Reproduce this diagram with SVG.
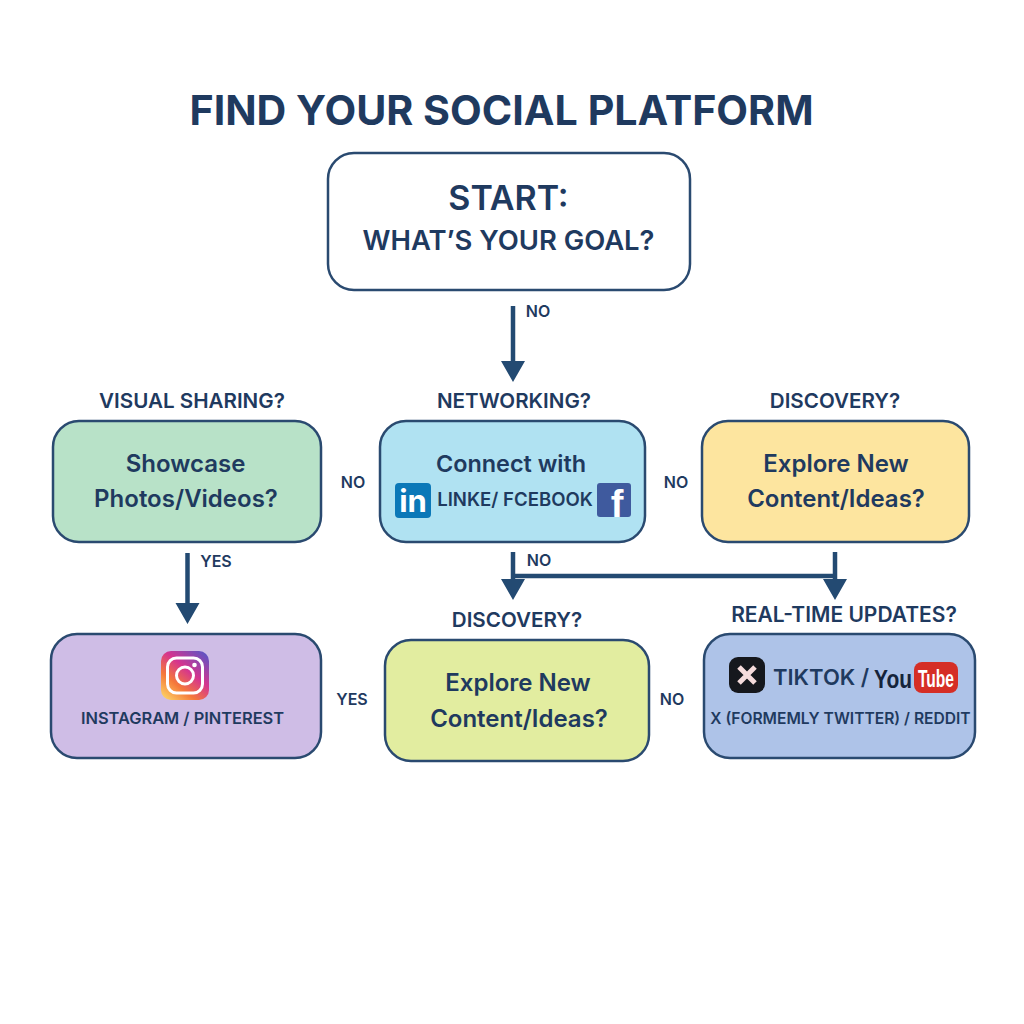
<svg xmlns="http://www.w3.org/2000/svg" width="1024" height="1024" viewBox="0 0 1024 1024">
<defs>
<style>
text{font-family:"Inter","Liberation Sans",sans-serif;fill:#1f3a5f;text-anchor:middle;font-weight:600}
.n{stroke:#2a4a70;stroke-width:2.5}
.l{font-size:16px}
.h{font-size:20.600px}
.b{font-size:24px}
.s{font-size:16.400px}
.c{fill:none;stroke:#234a72;stroke-width:4.500}
.w{font-family:"Liberation Sans",sans-serif;font-weight:700}
</style>
<linearGradient id="ig" x1="0.1" y1="1" x2="0.9" y2="0"><stop offset="0" stop-color="#fdd365"/><stop offset="0.3" stop-color="#f5793a"/><stop offset="0.6" stop-color="#d5348f"/><stop offset="1" stop-color="#5b55c5"/></linearGradient>
</defs>
<rect width="1024" height="1024" fill="#fff"/>
<text id="title" x="501.500" y="125" style="font-size:41.200px;font-weight:700">FIND YOUR SOCIAL PLATFORM</text>
<g id="connectors">
<g class="c">
<path d="M513 306V364"/>
<path d="M187.500 553V606"/>
<path d="M513 552V582"/>
<path d="M835 552V582"/>
<path d="M513 576H835"/>
</g>
<path d="M501 361H525L513 382Z M175.500 603H199.500L187.500 624Z M501 579H525L513 600Z M823 579H847L835 600Z" fill="#234a72"/>
</g>
<g id="edge-labels">
<text class="l" x="538" y="317">NO</text>
<text class="l" x="353" y="488">NO</text>
<text class="l" x="676" y="488">NO</text>
<text class="l" x="216" y="567">YES</text>
<text class="l" x="539" y="566">NO</text>
<text class="l" x="352" y="705">YES</text>
<text class="l" x="672" y="705">NO</text>
</g>
<g id="start"><rect class="n" x="328" y="153" width="362" height="137" rx="26" fill="#fff"/>
<text x="508.500" y="210" style="font-size:34px">START:</text>
<text x="508.500" y="250" style="font-size:27.400px">WHAT’S YOUR GOAL?</text></g>
<g id="visual"><text class="h" x="192" y="408">VISUAL SHARING?</text>
<rect class="n" x="53" y="421" width="268" height="121" rx="26" fill="#b8e2c8"/>
<text class="b" x="185.500" y="472">Showcase</text><text class="b" x="186" y="507">Photos/Videos?</text></g>
<g id="networking"><text class="h" x="514" y="408">NETWORKING?</text>
<rect class="n" x="380" y="421" width="265" height="121" rx="26" fill="#b0e2f2"/>
<text class="b" x="511" y="472" style="font-size:23.400px">Connect with</text>
<rect x="395" y="483" width="36" height="35" rx="4" fill="#0b78b8"/>
<text x="413" y="512" style="font-size:31px;font-weight:700;fill:#fff">in</text>
<text x="515" y="506" style="font-size:18.600px">LINKE/ FCEBOOK</text>
<rect x="597" y="483" width="34" height="34" rx="3" fill="#3f5a9e"/>
<text class="w" x="617" y="517" style="font-size:38px;fill:#fff">f</text></g>
<g id="discovery1"><text class="h" x="835" y="408">DISCOVERY?</text>
<rect class="n" x="702" y="421" width="267" height="121" rx="26" fill="#fde59f"/>
<text class="b" x="836" y="472">Explore New</text><text class="b" x="836" y="507">Content/Ideas?</text></g>
<g id="instagram"><rect class="n" x="51" y="634" width="270" height="124" rx="26" fill="#cfbde6"/>
<rect x="161" y="651" width="48" height="49" rx="10" fill="url(#ig)"/>
<rect x="167.500" y="658" width="35" height="35" rx="9" fill="none" stroke="#fff" stroke-width="3"/>
<circle cx="185" cy="675.500" r="8.500" fill="none" stroke="#fff" stroke-width="3"/><circle cx="194.500" cy="665" r="2.300" fill="#fff"/>
<text class="s" x="182.500" y="724">INSTAGRAM / PINTEREST</text></g>
<g id="discovery2"><text class="h" x="517" y="627">DISCOVERY?</text>
<rect class="n" x="385" y="640" width="264" height="121" rx="26" fill="#e2eda0"/>
<text class="b" x="518" y="691">Explore New</text><text class="b" x="519" y="727">Content/Ideas?</text></g>
<g id="realtime"><text x="844" y="622" style="font-size:21px">REAL-TIME UPDATES?</text>
<rect class="n" x="704" y="634" width="271" height="124" rx="26" fill="#aec3e8"/>
<rect x="729" y="657" width="36" height="36" rx="9" fill="#16181d"/>
<path d="M739 667L755 683M755 667L739 683" stroke="#f6dcdc" stroke-width="5"/>
<text x="773" y="685" style="font-size:22px;text-anchor:start">TIKTOK /</text>
<text class="w" x="874" y="688" textLength="38" lengthAdjust="spacingAndGlyphs" style="font-size:26px;text-anchor:start;fill:#15233a">You</text>
<rect x="914" y="662" width="44" height="31" rx="8" fill="#d52e26"/>
<text class="w" x="918" y="687" textLength="36" lengthAdjust="spacingAndGlyphs" style="font-size:24px;text-anchor:start;fill:#fff">Tube</text>
<text x="840.500" y="724" style="font-size:15.600px">X (FORMEMLY TWITTER) / REDDIT</text></g>
</svg>
